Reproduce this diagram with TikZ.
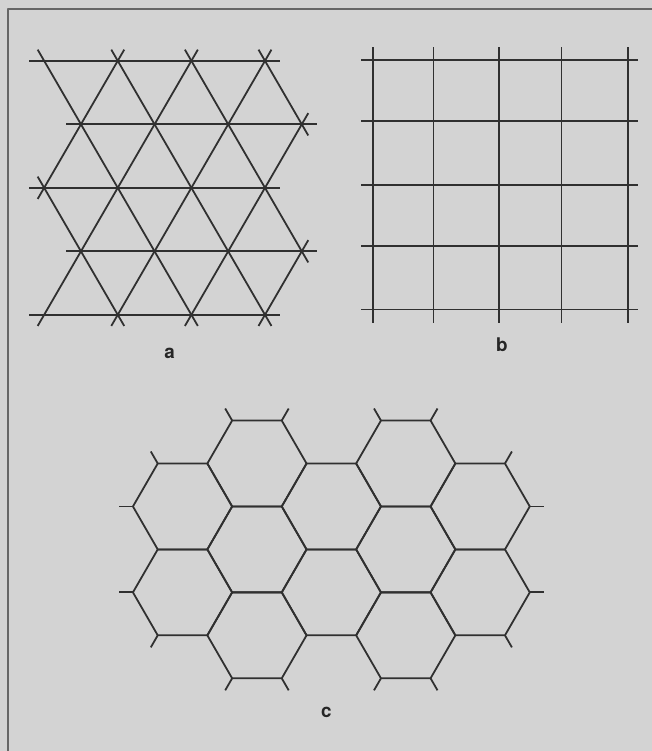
\documentclass[tikz,border=0pt]{standalone}
\usepackage{fontspec}
\usepackage{xcolor}
\usepackage{tikz}
\usetikzlibrary{calc}
\newfontfamily\labelfont{TeX Gyre Heros}
\definecolor{paper}{RGB}{211,211,211}
\definecolor{ink}{RGB}{48,48,48}

\begin{document}
\begin{tikzpicture}[x=1pt,y=-1pt,line join=round,
                    grid line/.style={draw=ink,line width=1.8pt},
                    panel label/.style={font=\labelfont\bfseries\fontsize{19}{22}\selectfont,text=black!85,anchor=base}]
 \fill[paper] (-3,-3) rectangle (654,754);
 \useasboundingbox (0,0) rectangle (651,751);
 \draw[draw=black!60,line width=2pt] (5.5,755) -- (5.5,6.5) -- (655,6.5);

%Triangle lattice
 \foreach \r in {0,...,4}
    \foreach \k in {0,...,3}
       {\pgfmathtruncatemacro{\m}{2*\k+mod(\r,2)}
       \coordinate (T\r\m) at (41.5+37.1*\m,58.3+64*\r);}

 \foreach \r in {0,...,4}
   {\pgfmathtruncatemacro{\ma}{mod(\r,2)}
   \pgfmathtruncatemacro{\mb}{6+mod(\r,2)}
   \draw[grid line] ($(T\r\ma)!-15pt!(T\r\mb)$) -- ($(T\r\mb)!-15pt!(T\r\ma)$);}

 \foreach \a/\b in {20/42,00/44,02/46,04/37,06/17,02/20,04/40,06/42,17/44,37/46}
   \draw[grid line] ($(T\a)!-13pt!(T\b)$) -- ($(T\b)!-13pt!(T\a)$);

%Square grid
 \foreach \x [count=\i] in {373,434,500,563,630}
   \foreach \y [count=\j] in {57.5,119,183.5,245,309}
     \coordinate (S\i\j) at (\x,\y);

 \foreach \i in {1,...,5}
   \draw[grid line] ($(S\i1)!-13pt!(S\i5)$) -- ($(S\i5)!-14pt!(S\i1)$)
                    ($(S1\i)!-12pt!(S5\i)$) -- ($(S5\i)!-10pt!(S1\i)$);

%Hexagon grid
 \foreach \i in {0,...,4}
   {\pgfmathtruncatemacro{\n}{1+mod(\i,2)}
   \pgfmathsetmacro{\yo}{507.5-43.3*mod(\i,2)}
   \foreach \j in {0,...,\n}
     \coordinate (H\i\j) at (181+75*\i,\yo+86.6*\j);}

 \foreach \h in {00,01,10,11,12,20,21,30,31,32,40,41}
   \draw[grid line] ($(H\h)+(0:50pt)$) \foreach \a in {60,120,...,300} {-- ($(H\h)+(\a:50pt)$)} -- cycle;

 %loose ends
 \foreach \h/\a in {00/120,00/180,01/180,01/240,10/120,10/60,12/240,12/300,
                    30/120,30/60,32/240,32/300,40/60,40/0,41/0,41/300}
   \draw[grid line] ($(H\h)+(\a:50pt)$) -- ($(H\h)+(\a:64pt)$);

%Labels
 \node[panel label] (LabelA) at (168,358) {a};
 \node[panel label] (LabelB) at (503,351) {b};
 \node[panel label] (LabelC) at (326,720) {c};
\end{tikzpicture}
\end{document}
